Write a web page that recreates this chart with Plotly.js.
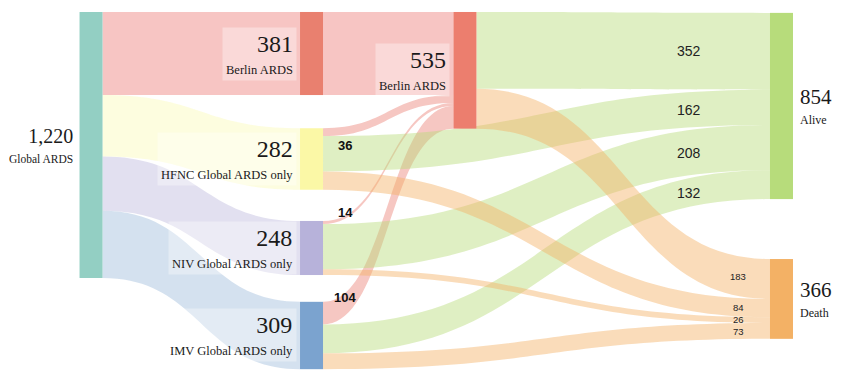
<!DOCTYPE html>
<html><head><meta charset="utf-8">
<script src="https://cdn.plot.ly/plotly-3.0.1.min.js"></script>
<style>html,body{margin:0;padding:0;background:#fff}#chart{width:850px;height:382px}</style>
</head><body><div id="chart"></div>
<script>
// ---------------- data ----------------
const nodeNames = ["Global ARDS", "Berlin ARDS", "HFNC Global ARDS only", "NIV Global ARDS only",
                   "IMV Global ARDS only", "Berlin ARDS", "Alive", "Death"];
const linkSource = [0, 0, 0, 0,   1, 2, 3, 4,    5, 2, 3, 4,    5, 2, 3, 4];
const linkTarget = [1, 2, 3, 4,   5, 5, 5, 5,    6, 6, 6, 6,    7, 7, 7, 7];
const linkValue  = [381, 282, 248, 309,   381, 36, 14, 104,   352, 162, 208, 132,   183, 84, 26, 73];
const sourceLabelLinks = [5, 6, 7];          // 36, 14, 104
const aliveLabelLinks  = [8, 9, 10, 11];     // 352, 162, 208, 132
const deathLabelLinks  = [12, 13, 14, 15];   // 183, 84, 26, 73

// ---------------- layout / style ----------------
const W = 850, H = 382, M = {l: 0, r: 0, t: 12, b: 14};
const PAD = 30, THICK = 23;
const nodeX = [0.1071, 0.3665, 0.3665, 0.3665, 0.3665, 0.547, 0.9194, 0.9194];
const nodeY = [0.3736, 0.1166, 0.4129, 0.6629, 0.9087, 0.1638, 0.264, 0.806];
const nodeColors = ["#93cfc3", "#e9806f", "#fbf8a6", "#b7b2da", "#7ba3cf", "#ec7e6e", "#b7dc7b", "#f3b165"];
const labelNumSize  = [20, 24, 24, 24, 24, 24, 21, 21];
const labelSubSize  = [11.5, 12.5, 12.5, 12.5, 12.5, 12.5, 12, 12];
const labelBaseSize = [15, 17, 17, 17, 17, 17, 15, 15];
const linkColorByTarget = {
  1: "rgba(239,140,135,0.5)", 2: "rgba(250,248,150,0.3)", 3: "rgba(183,178,218,0.4)",
  4: "rgba(123,163,207,0.33)", 6: "rgba(183,220,123,0.45)", 7: "rgba(243,177,101,0.45)"
};
const linkColors = linkTarget.map((t, i) => {
  if (t === 5) return linkSource[i] === 1 ? "rgba(239,140,135,0.5)" : "rgba(236,130,120,0.45)";
  return linkColorByTarget[t];
});
const sourceLabelX = 345, aliveLabelX = 689, deathLabelX = 738;
const sourceLabelDy = [15, -5, -7];

// ---------------- geometry (mirrors the sankey layout for label placement) ----------------
const plotW = W - M.l - M.r, plotH = H - M.t - M.b;
const n = nodeNames.length;
const inSum = new Array(n).fill(0), outSum = new Array(n).fill(0);
linkValue.forEach((v, i) => { outSum[linkSource[i]] += v; inSum[linkTarget[i]] += v; });
const nodeValue = inSum.map((v, i) => Math.max(v, outSum[i]));
const cols = {};
nodeX.forEach((x, i) => { (cols[x] = cols[x] || []).push(i); });
const ky = Math.min(...Object.values(cols).map(c =>
  (plotH - (c.length - 1) * PAD) / c.reduce((s, i) => s + nodeValue[i], 0)));
const geo = nodeNames.map((_, i) => {
  const cx = M.l + nodeX[i] * plotW, cy = M.t + nodeY[i] * plotH, h = nodeValue[i] * ky;
  return {x0: cx - THICK / 2, x1: cx + THICK / 2, y0: cy - h / 2, y1: cy + h / 2, cy: cy};
});
const ls = linkValue.map((v, i) => ({i: i, s: linkSource[i], t: linkTarget[i], w: v * ky}));
for (let k = 0; k < n; k++) {
  let y = geo[k].y0;
  ls.filter(l => l.s === k).sort((a, b) => geo[a.t].y0 - geo[b.t].y0 || a.i - b.i)
    .forEach(l => { l.ys = y + l.w / 2; y += l.w; });
  y = geo[k].y0;
  ls.filter(l => l.t === k).sort((a, b) => geo[a.s].y0 - geo[b.s].y0 || a.i - b.i)
    .forEach(l => { l.yt = y + l.w / 2; y += l.w; });
}
function linkYAt(l, x) {
  const x0 = geo[l.s].x1, x1 = geo[l.t].x0, f = (x - x0) / (x1 - x0);
  let lo = 0, hi = 1;
  for (let k = 0; k < 50; k++) {
    const t = (lo + hi) / 2, s = 1.5 * t * (1 - t) + t * t * t;
    if (s < f) lo = t; else hi = t;
  }
  const t = (lo + hi) / 2;
  return l.ys + (l.yt - l.ys) * (3 * t * t - 2 * t * t * t);
}
const px2x = px => (px - M.l) / plotW;
const px2y = py => 1 - (py - M.t) / plotH;

// ---------------- annotations ----------------
const annotations = [];
const lastX = Math.max(...nodeX);
nodeNames.forEach((name, i) => {
  const right = nodeX[i] === lastX;
  annotations.push({
    xref: "paper", yref: "paper",
    x: px2x(right ? geo[i].x1 + 3 : geo[i].x0 - 3), y: px2y(geo[i].cy),
    xanchor: right ? "left" : "right", yanchor: "middle", align: right ? "left" : "right",
    showarrow: false, borderpad: 3,
    bgcolor: "rgba(255,255,255,0.35)",
    font: {family: "'Liberation Serif', 'Times New Roman', serif", size: labelBaseSize[i], color: "#1a1a1a"},
    text: '<span style="font-size:' + labelNumSize[i] + 'px">' + nodeValue[i].toLocaleString("en-US") + '</span><br>' +
          '<span style="font-size:' + labelSubSize[i] + 'px">' + name + '</span>'
  });
});
sourceLabelLinks.forEach((li, k) => {
  annotations.push({xref: "paper", yref: "paper", x: px2x(sourceLabelX),
    y: px2y(linkYAt(ls[li], sourceLabelX) + sourceLabelDy[k]), xanchor: "center", yanchor: "middle",
    showarrow: false, text: "<b>" + linkValue[li] + "</b>",
    font: {family: "'Liberation Sans', Arial, sans-serif", size: 13, color: "#111"}});
});
aliveLabelLinks.forEach(li => {
  annotations.push({xref: "paper", yref: "paper", x: px2x(aliveLabelX),
    y: px2y(linkYAt(ls[li], aliveLabelX)), xanchor: "center", yanchor: "middle",
    showarrow: false, text: String(linkValue[li]),
    font: {family: "'Liberation Sans', Arial, sans-serif", size: 14, color: "#222"}});
});
deathLabelLinks.forEach(li => {
  annotations.push({xref: "paper", yref: "paper", x: px2x(deathLabelX),
    y: px2y(linkYAt(ls[li], deathLabelX)), xanchor: "center", yanchor: "middle",
    showarrow: false, text: String(linkValue[li]),
    font: {family: "'Liberation Sans', Arial, sans-serif", size: 9.5, color: "#222"}});
});

// ---------------- chart ----------------
const trace = {
  type: "sankey", arrangement: "fixed", hoverinfo: "none",
  domain: {x: [0, 1], y: [0, 1]},
  node: {label: nodeNames, x: nodeX, y: nodeY, pad: PAD, thickness: THICK,
         color: nodeColors, line: {width: 0}},
  link: {source: linkSource, target: linkTarget, value: linkValue, color: linkColors},
  textfont: {size: 1, color: "rgba(0,0,0,0)", shadow: "none"}
};
Plotly.newPlot("chart", [trace], {
  width: W, height: H, margin: M, paper_bgcolor: "#fff", plot_bgcolor: "#fff",
  showlegend: false, annotations: annotations
}, {displayModeBar: false, staticPlot: true});
</script>
</body></html>
